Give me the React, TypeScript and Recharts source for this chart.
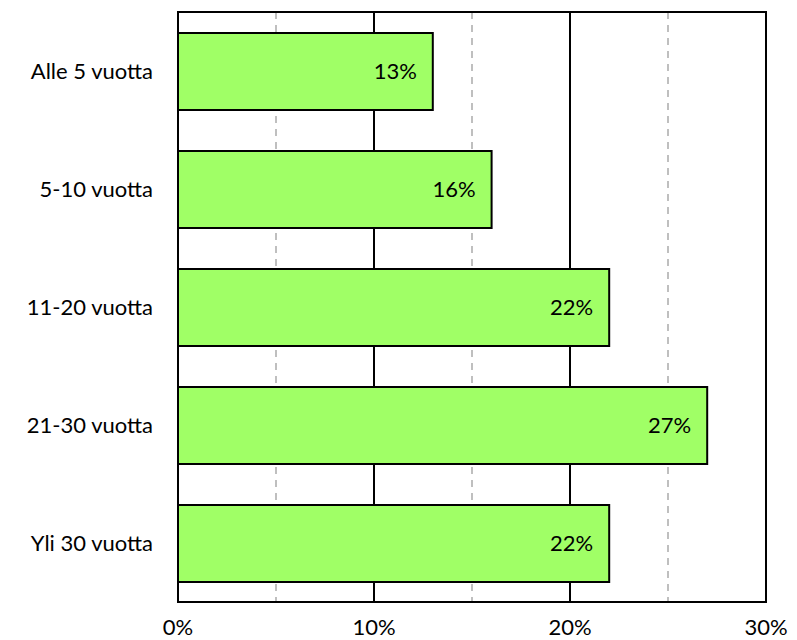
import { BarChart, Bar, XAxis, YAxis, CartesianGrid, ReferenceArea, LabelList } from 'recharts';

const categories = ['Alle 5 vuotta', '5-10 vuotta', '11-20 vuotta', '21-30 vuotta', 'Yli 30 vuotta'];
const shares = [13, 16, 22, 27, 22];
const xTicks = [0, 10, 20, 30];
const minorLines = [5, 15, 25];
const majorLines = [10, 20];

const data = categories.map((name, i) => ({ name, value: shares[i] }));

const FONT = 'Lato, "Open Sans", sans-serif';

export default function App() {
  return (
    <div style={{ position: 'absolute', left: 0, top: 0, width: 797, height: 640, background: '#fff' }}>
      <BarChart
        width={797}
        height={640}
        data={data}
        layout="vertical"
        margin={{ top: 12, right: 31, bottom: 0, left: 0 }}
        barSize={77}
      >
        {/* minor dashed grid, then major solid grid */}
        <CartesianGrid horizontal={false} verticalValues={minorLines} stroke="#BFBFBF" strokeWidth={2} strokeDasharray="7 6" />
        <CartesianGrid horizontal={false} verticalValues={majorLines} stroke="#000" strokeWidth={2} />
        <XAxis
          type="number"
          domain={[0, 30]}
          ticks={xTicks}
          tickFormatter={v => `${v}%`}
          axisLine={{ stroke: '#000', strokeWidth: 2 }}
          tickLine={false}
          tickSize={0}
          tickMargin={17}
          height={38}
          tick={{ fill: '#000', fontSize: 22, fontFamily: FONT }}
          interval={0}
        />
        <YAxis
          type="category"
          dataKey="name"
          width={178}
          axisLine={{ stroke: '#000', strokeWidth: 2 }}
          tickLine={false}
          tickSize={0}
          tickMargin={25}
          tick={{ fill: '#000', fontSize: 22, fontFamily: FONT }}
        />
        <ReferenceArea x1={0} x2={30} fill="none" stroke="#000" strokeWidth={2} />
        <Bar dataKey="value" fill="#A0FF66" stroke="#000" strokeWidth={2} isAnimationActive={false}>
          <LabelList
            dataKey="value"
            position="insideRight"
            offset={16}
            formatter={(v: any) => `${v}%`}
            style={{ fill: '#000', fontSize: 22, fontFamily: FONT }}
          />
        </Bar>
      </BarChart>
    </div>
  );
}
